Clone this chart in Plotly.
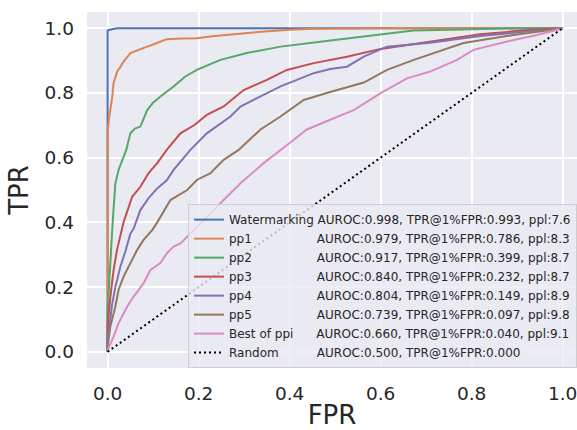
import plotly.graph_objects as go

# ---- data ----
names = ["Watermarking", "pp1", "pp2", "pp3", "pp4", "pp5", "Best of ppi", "Random"]
auroc = ["0.998", "0.979", "0.917", "0.840", "0.804", "0.739", "0.660", "0.500"]
tpr1 = ["0.993", "0.786", "0.399", "0.232", "0.149", "0.097", "0.040", "0.000"]
ppl = ["7.6", "8.3", "8.7", "8.7", "8.9", "9.8", "9.1", None]

wm_x = [0, 0, 0.005, 0.02, 1.0]
wm_y = [0, 0.993, 0.995, 1.0, 1.0]

pp1_x = [0, 0, 0.003, 0.006, 0.010, 0.013, 0.021, 0.028, 0.035, 0.05, 0.065, 0.087, 0.11, 0.13, 0.16, 0.196, 0.23, 0.27, 0.33, 0.40, 0.45, 0.6, 1.0]
pp1_y = [0, 0.676, 0.72, 0.747, 0.786, 0.83, 0.866, 0.88, 0.897, 0.923, 0.932, 0.943, 0.955, 0.966, 0.968, 0.969, 0.975, 0.981, 0.988, 0.995, 0.998, 1.0, 1.0]

pp2_x = [0, 0, 0.003, 0.006, 0.0097, 0.013, 0.017, 0.024, 0.035, 0.041, 0.05, 0.06, 0.072, 0.087, 0.10, 0.116, 0.145, 0.17, 0.196, 0.248, 0.306, 0.38, 0.49, 0.6, 0.672, 0.78, 0.9, 1.0]
pp2_y = [0, 0.129, 0.2, 0.294, 0.367, 0.44, 0.52, 0.562, 0.603, 0.624, 0.675, 0.69, 0.696, 0.747, 0.77, 0.789, 0.82, 0.85, 0.871, 0.902, 0.923, 0.943, 0.962, 0.98, 0.993, 0.996, 1.0, 1.0]

pp3_x = [0, 0, 0.006, 0.0097, 0.0132, 0.0207, 0.028, 0.035, 0.054, 0.072, 0.09, 0.109, 0.13, 0.16, 0.19, 0.218, 0.255, 0.299, 0.35, 0.394, 0.453, 0.526, 0.6, 0.709, 0.819, 0.929, 1.0]
pp3_y = [0, 0.078, 0.17, 0.225, 0.253, 0.315, 0.356, 0.40, 0.479, 0.51, 0.552, 0.583, 0.624, 0.675, 0.70, 0.732, 0.758, 0.809, 0.84, 0.871, 0.892, 0.912, 0.936, 0.959, 0.981, 0.995, 1.0]

pp4_x = [0, 0, 0.005, 0.0097, 0.017, 0.028, 0.039, 0.05, 0.057, 0.072, 0.09, 0.109, 0.13, 0.145, 0.182, 0.218, 0.27, 0.292, 0.336, 0.38, 0.453, 0.489, 0.526, 0.563, 0.614, 0.709, 0.819, 0.929, 1.0]
pp4_y = [0, 0.047, 0.09, 0.145, 0.20, 0.263, 0.31, 0.365, 0.38, 0.438, 0.475, 0.505, 0.53, 0.562, 0.624, 0.675, 0.727, 0.758, 0.789, 0.82, 0.861, 0.874, 0.881, 0.912, 0.943, 0.955, 0.976, 0.99, 1.0]

pp5_x = [0, 0, 0.006, 0.017, 0.024, 0.035, 0.05, 0.065, 0.079, 0.098, 0.109, 0.138, 0.175, 0.196, 0.226, 0.255, 0.288, 0.336, 0.38, 0.431, 0.489, 0.563, 0.614, 0.673, 0.782, 0.892, 0.965, 1.0]
pp5_y = [0, 0.016, 0.078, 0.14, 0.191, 0.232, 0.274, 0.315, 0.346, 0.376, 0.40, 0.469, 0.5, 0.531, 0.552, 0.593, 0.624, 0.687, 0.727, 0.778, 0.803, 0.832, 0.871, 0.902, 0.954, 0.979, 0.993, 1.0]

best_x = [0, 0, 0.013, 0.024, 0.043, 0.057, 0.079, 0.094, 0.116, 0.13, 0.145, 0.16, 0.175, 0.218, 0.255, 0.292, 0.343, 0.4, 0.438, 0.489, 0.541, 0.6, 0.658, 0.709, 0.768, 0.804, 0.878, 0.944, 1.0]
best_y = [0, 0.006, 0.047, 0.088, 0.14, 0.17, 0.212, 0.253, 0.274, 0.304, 0.325, 0.335, 0.356, 0.418, 0.469, 0.521, 0.583, 0.645, 0.687, 0.717, 0.747, 0.799, 0.845, 0.866, 0.902, 0.933, 0.959, 0.979, 1.0]

rand_x = [0, 1]
rand_y = [0, 1]

xs = [wm_x, pp1_x, pp2_x, pp3_x, pp4_x, pp5_x, best_x, rand_x]
ys = [wm_y, pp1_y, pp2_y, pp3_y, pp4_y, pp5_y, best_y, rand_y]

# ---- styling ----
colors = ["#4c72b0", "#dd8452", "#55a868", "#c44e52", "#8172b3", "#937860", "#da8bc3", "#000000"]
pad = [1, 17, 17, 17, 17, 17, 6, 10]  # non-breaking spaces to align the stats column
NB = "\u00a0"

fig = go.Figure()
for i in range(len(names)):
    label = names[i] + NB * pad[i] + "AUROC:" + auroc[i] + ", TPR@1%FPR:" + tpr1[i]
    if ppl[i] is not None:
        label += ", ppl:" + ppl[i]
    line = dict(color=colors[i], width=2)
    if names[i] == "Random":
        line["dash"] = "2px,3px"
    fig.add_trace(go.Scatter(x=xs[i], y=ys[i], mode="lines", name=label, line=line))

axis_common = dict(
    showgrid=True, gridcolor="white", gridwidth=1.5, zeroline=False, showline=False,
    automargin=False, ticklabeloverflow="allow",
    tickfont=dict(family="DejaVu Sans", size=18.5, color="#262626"),
    tickvals=[0, 0.2, 0.4, 0.6, 0.8, 1.0], ticktext=["0.0", "0.2", "0.4", "0.6", "0.8", "1.0"],
)

fig.update_layout(
    width=577, height=430,
    margin=dict(l=87, r=0, t=12, b=62),
    paper_bgcolor="white", plot_bgcolor="#eaeaf2",
    font=dict(family="DejaVu Sans", color="#262626"),
    xaxis=dict(**axis_common, range=[-0.0453, 1.0316],
               ticks="outside", ticklen=9, tickcolor="rgba(0,0,0,0)",
               title=dict(text="FPR", font=dict(size=26, color="#262626"), standoff=4)),
    yaxis=dict(**axis_common, range=[-0.05, 1.05], ticks="", ticklabelstandoff=12,
               title=dict(text="TPR", font=dict(size=26, color="#262626"), standoff=8)),
    legend=dict(
        x=1.0, xanchor="right", y=0.23, yanchor="middle",
        bgcolor="rgba(234,234,242,0.8)", bordercolor="rgba(204,204,204,0.9)", borderwidth=1,
        font=dict(family="DejaVu Sans", size=12, color="#262626"),
        tracegroupgap=0,
    ),
    showlegend=True,
)

fig.write_html(
    "out.html",
    config={"displayModeBar": False},
    post_script="document.body.style.margin='0';document.body.style.overflow='hidden';",
)
